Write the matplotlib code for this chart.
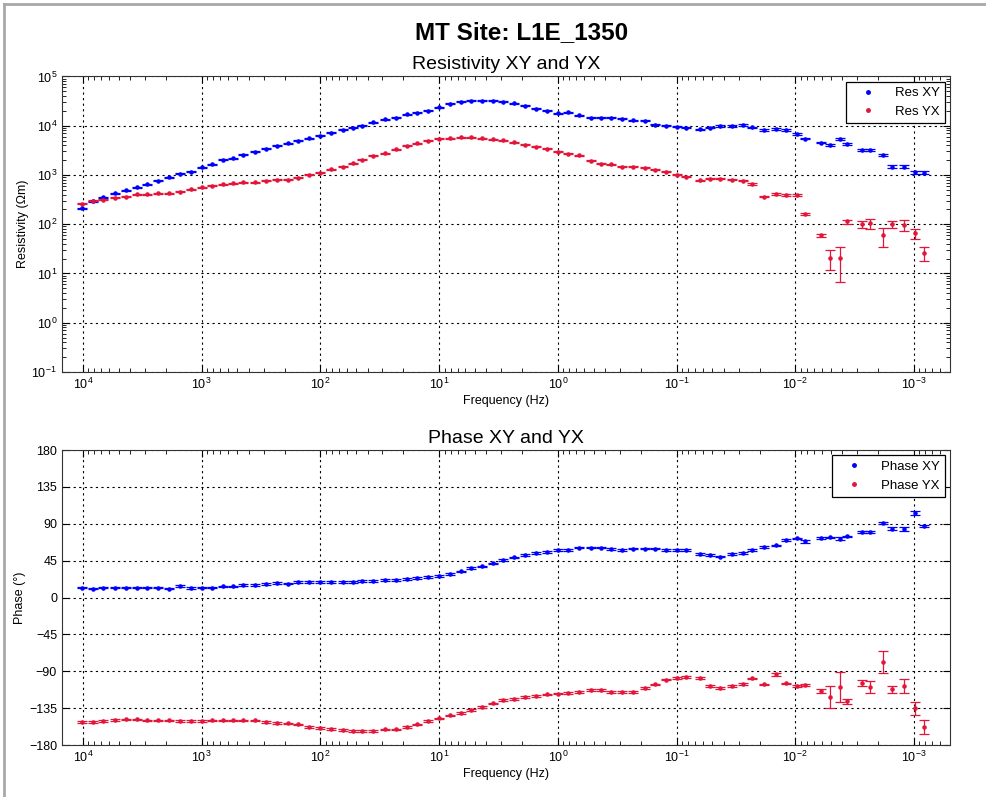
import numpy as np
import matplotlib.pyplot as plt
from matplotlib.lines import Line2D
from matplotlib.ticker import NullFormatter

plt.rcParams['font.family'] = ['Liberation Sans', 'DejaVu Sans']

# Частоти (Гц)
freq = [10200, 8240, 6780, 5380, 4340, 3510, 2890, 2335, 1886, 1523, 1231, 994,
        819, 662, 545, 449, 356, 287, 232, 187.5, 154.5, 124.7, 100.8, 81.4,
        64.5, 53.1, 44.6, 36.1, 28.6, 23.1, 18.6, 15.4, 12.4, 10.0, 8.09, 6.54,
        5.39, 4.35, 3.52, 2.89, 2.34, 1.89, 1.53, 1.23, 0.996, 0.821, 0.663,
        0.525, 0.4325, 0.356, 0.288, 0.2325, 0.184, 0.1518, 0.1226, 0.0990,
        0.0832, 0.0634, 0.0522, 0.0430, 0.0341, 0.0275, 0.0231, 0.0183,
        0.01451, 0.01195, 0.00966, 0.00827, 0.00606, 0.00509, 0.00419,
        0.00366, 0.00274, 0.00234, 0.00182, 0.00153, 0.00121, 0.00098, 0.00082]
freq_ticks = [1e4, 1e3, 1e2, 1e1, 1e0, 1e-1, 1e-2, 1e-3]

# Опір (Ом*м)
rho_xy = [212, 289, 354, 427, 491, 565, 650, 759, 902, 1052, 1155, 1439, 1656,
          2024, 2190, 2557, 2943, 3436, 3951, 4414, 4985, 5572, 6208, 7244,
          8222, 9160, 10050, 11770, 13550,
          14620, 17100, 18450, 20260, 23700, 27680, 30400, 32350, 32350, 31850,
          30400, 28580, 25220, 22240, 20260, 17900, 18760, 16300, 14620, 14620,
          14620, 13740, 12900, 12510, 10370, 9900, 9600, 9160, 8470,
          9160, 9900, 9900, 10370, 9310, 8222, 8610, 8222, 6820, 5470, 4550,
          4140, 5310, 4275, 3228, 3228, 2518, 1483, 1483, 1135, 1120]
rho_yx = [259, 299, 313, 348, 365, 401, 401, 420, 420, 460, 515, 565, 601, 650,
          681, 714, 714, 759, 796, 796, 873, 1005, 1119, 1312, 1479, 1735, 2024,
          2440, 2768,
          3334, 3951, 4406, 4917, 5397, 5572, 5834, 5834, 5572, 5309, 5070,
          4615, 4140, 3770, 3380, 2985, 2680, 2518, 1963, 1679, 1656, 1483,
          1483, 1413, 1268, 1172, 1005, 929, 783,
          834, 845, 796, 759, 659, 365, 407, 394, 394, 160, 59, 20.5, 20.5,
          113.5, 100.5, 105, 59, 102, 97.2, 65.9, 26]

# Похибки опору (%)
rho_xy_err = [2, 2, 2, 2, 2, 2, 2, 2, 2, 2, 2, 2, 2, 2, 2, 2, 2, 2, 2, 2,
              2, 2, 2, 2, 2, 2, 2, 2, 2, 2, 2, 2, 2, 2, 2, 2, 2, 2, 2, 2,
              2, 2, 2, 2, 2, 2, 2, 2, 2, 2, 2, 2, 2, 2, 2, 2, 3, 3, 3, 3,
              3, 3, 3, 3, 3, 3, 3, 4, 4, 5, 5, 4, 4, 5, 5, 5, 6, 6, 6]
rho_yx_err = [2, 2, 2, 2, 2, 2, 2, 2, 2, 2, 2, 2, 2, 2, 2, 2, 2, 2, 2, 2,
              2, 2, 2, 2, 2, 2, 2, 2, 2, 2, 2, 2, 2, 2, 2, 2, 2, 2, 2, 2,
              2, 2, 2, 2, 2, 2, 2, 2, 2, 2, 2, 2, 2, 2, 2, 2, 2, 2, 2, 2,
              2, 2, 3, 4, 4, 4, 4, 5, 8, 44, 68, 9, 15, 24, 42, 16, 26, 24, 31]

# Фаза (градуси)
phase_xy = [12.2, 11.0, 12.2, 12.2, 12.2, 12.2, 12.2, 12.2, 11.0, 14.3, 11.9,
            12.2, 12.2, 13.5, 13.5, 15.1, 15.1, 16.4, 17.6, 17.1, 18.8, 18.8,
            18.8, 18.8, 18.8, 18.8, 20.0, 20.0, 21.3,
            21.3, 22.5, 23.7, 24.9, 26.5, 29.0, 31.8, 35.9, 37.9, 41.6, 45.7,
            48.9, 52.2, 54.7, 55.5, 57.9, 57.9, 61.0, 61.0, 61.0, 59.0, 58.3,
            59.7, 59.7, 59.7, 58.3, 58.3, 58.3, 53.3,
            51.8, 50.1, 53.1, 54.7, 57.9, 62.0, 63.6, 70.2, 72.1, 68.5, 72.6,
            73.4, 71.8, 74.6, 80.3, 80.3, 91.0, 84.0, 83.6, 103.2, 87.3]
phase_yx = [-152.0, -152.0, -150.8, -149.5, -148.7, -148.7, -149.9, -149.9,
            -149.9, -150.8, -150.8, -150.8, -149.9, -149.9, -149.9, -149.9,
            -149.9, -151.6, -152.8, -153.6, -154.8, -157.7, -159.0, -160.2,
            -161.8, -162.6, -162.6, -162.6, -160.9,
            -160.9, -157.7, -154.8, -150.8, -147.5, -143.8, -140.6, -137.3,
            -133.3, -129.1, -125.1, -124.2, -121.4, -120.2, -118.3, -117.3,
            -116.5, -115.1, -113.0, -112.9, -115.1, -115.3, -115.3, -110.1,
            -106.1, -100.2, -97.8, -97.0, -98.2,
            -108.0, -110.1, -108.0, -105.2, -98.6, -105.9, -93.7, -104.7,
            -108.0, -106.8, -114.1, -121.4, -108.8, -126.7, -104.3, -109.2,
            -78.3, -112.0, -108.4, -135.3, -158.1]

# Похибки фази (градуси)
phase_xy_err = [1, 1, 1, 1, 1, 1, 1, 1, 1, 1, 1, 1, 1, 1, 1, 1, 1, 1, 1, 1,
                1, 1, 1, 1, 1, 1, 1, 1, 1, 1, 1, 1, 1, 1, 1, 1, 1, 1, 1, 1,
                1, 1, 1, 1, 1, 1, 1, 1, 1, 1, 1, 1, 1, 1, 1, 1, 1, 1, 1, 1,
                1, 1, 1, 1, 1, 1, 1, 1.5, 1, 1, 1.5, 1, 1.5, 1.5, 1.5, 2, 2, 2, 1.5]
phase_yx_err = [1, 1, 1, 1, 1, 1, 1, 1, 1, 1, 1, 1, 1, 1, 1, 1, 1, 1, 1, 1,
                1, 1, 1, 1, 1, 1, 1, 1, 1, 1, 1, 1, 1, 1, 1, 1, 1, 1, 1, 1,
                1, 1, 1, 1, 1, 1, 1, 1, 1, 1, 1, 1, 1, 1, 1, 1, 1, 1, 1, 1,
                1, 1, 1, 1, 1.5, 1, 1, 1, 3, 13.6, 18.4, 2.8, 3.5, 7.2, 13.2,
                4.1, 8.5, 7.7, 8.5]

blue = '#0000ff'
red = '#e3163a'

fig = plt.figure(figsize=(9.87, 7.97), dpi=100)
ax1 = fig.add_axes([0.0628, 0.5333, 0.8997, 0.3708])
ax2 = fig.add_axes([0.0628, 0.0652, 0.8997, 0.3701])

f = np.array(freq)
rxy = np.array(rho_xy)
ryx = np.array(rho_yx)

eb = dict(fmt='.', ms=4.5, capsize=3.5, elinewidth=0.9, capthick=0.9)
ax1.errorbar(f, rxy, yerr=rxy * np.array(rho_xy_err) / 100, color=blue, **eb)
ax1.errorbar(f, ryx, yerr=ryx * np.array(rho_yx_err) / 100, color=red, **eb)
ax2.errorbar(f, phase_xy, yerr=phase_xy_err, color=blue, **eb)
ax2.errorbar(f, phase_yx, yerr=phase_yx_err, color=red, **eb)

for ax in (ax1, ax2):
    ax.set_xscale('log')
    ax.set_xticks(freq_ticks)
    ax.set_xlim(15030, 4.97e-4)
    ax.xaxis.set_minor_formatter(NullFormatter())
    ax.tick_params(which='both', direction='in', top=True, right=True,
                   labelsize=9)
    ax.tick_params(which='major', length=5)
    ax.tick_params(which='minor', length=3)
    ax.grid(True, which='major', color='black', linestyle=(0, (2, 3)),
            linewidth=0.8)
    ax.set_xlabel('Frequency (Hz)', fontsize=9, labelpad=2)
    for s in ax.spines.values():
        s.set_color('#333333')

ax1.set_yscale('log')
ax1.set_ylim(1e-1, 1e5)
ax1.yaxis.set_minor_formatter(NullFormatter())
ax1.set_ylabel('Resistivity (\u03a9m)', fontsize=9, labelpad=2)
ax1.set_title('Resistivity XY and YX', fontsize=14, pad=5)

ax2.set_ylim(-180, 180)
ax2.set_yticks(np.arange(-180, 181, 45))
ax2.set_ylabel('Phase (\u00b0)', fontsize=9, labelpad=2)
ax2.set_title('Phase XY and YX', fontsize=14, pad=5)

def legend(ax, names):
    h = [Line2D([], [], marker='.', ms=5, ls='none', color=c) for c in (blue, red)]
    lg = ax.legend(h, names, loc='upper right', fontsize=9.5, fancybox=False,
                   edgecolor='black', framealpha=1, handlelength=2.5,
                   borderaxespad=0.4, labelspacing=0.5)
    lg.get_frame().set_linewidth(0.9)

legend(ax1, ['Res XY', 'Res YX'])
legend(ax2, ['Phase XY', 'Phase YX'])

fig.text(0.528, 1 - 33 / 797, 'MT Site: L1E_1350', fontsize=17.5,
         fontweight='bold', ha='center', va='center')

# рамка вікна
fig.add_artist(Line2D([0.004, 0.004], [0, 0.995], transform=fig.transFigure,
                      color='#a8a8a8', lw=2))
fig.add_artist(Line2D([0.004, 1], [0.995, 0.995], transform=fig.transFigure,
                      color='#a8a8a8', lw=2))

fig.savefig('out.png', dpi=100)
